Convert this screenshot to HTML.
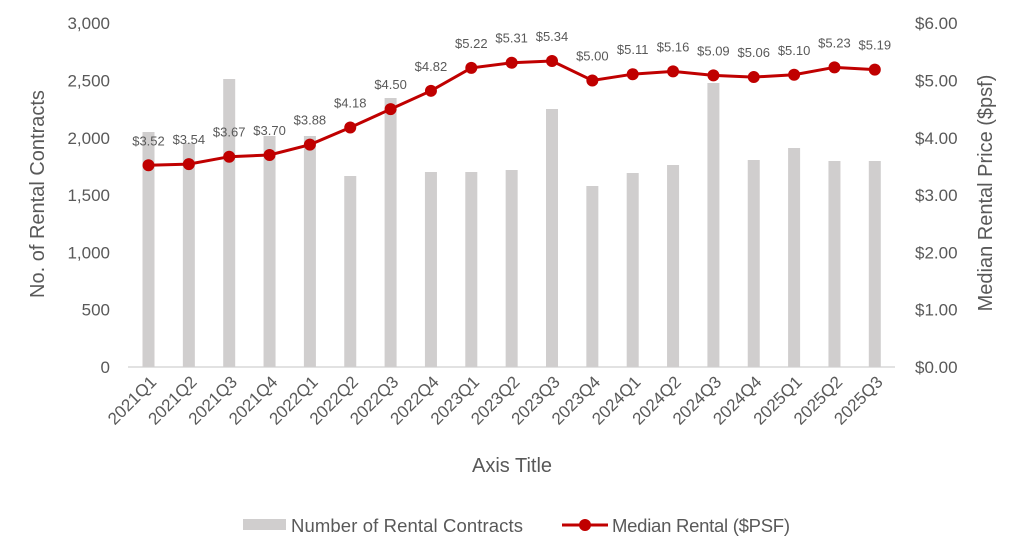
<!DOCTYPE html>
<html><head><meta charset="utf-8"><style>
html,body{margin:0;padding:0;background:#fff;}
svg{display:block;font-family:"Liberation Sans",sans-serif;}
</style></head><body>
<svg id="c" width="1024" height="559" viewBox="0 0 1024 559" xmlns="http://www.w3.org/2000/svg">
<rect width="1024" height="559" fill="#fff"/>
<g id="g"></g>
<text x="44" y="194" transform="rotate(-90 44 194)" text-anchor="middle" font-size="20" fill="#595959">No. of Rental Contracts</text>
<text x="992" y="193" transform="rotate(-90 992 193)" text-anchor="middle" font-size="20" fill="#595959">Median Rental Price ($psf)</text>
<text x="512" y="472" text-anchor="middle" font-size="20" fill="#595959">Axis Title</text>
<rect x="243" y="519" width="43" height="11" fill="#d0cece"/>
<text x="291" y="532" font-size="18.5" fill="#595959" textLength="232">Number of Rental Contracts</text>
<line x1="562" y1="525" x2="608" y2="525" stroke="#c00000" stroke-width="3"/>
<circle cx="585" cy="525" r="6" fill="#c00000"/>
<text x="612" y="532" font-size="18.5" fill="#595959" textLength="178">Median Rental ($PSF)</text>
</svg>
<script>
var g=document.getElementById('g'),h='';
var lbl=['2021Q1','2021Q2','2021Q3','2021Q4','2022Q1','2022Q2','2022Q3','2022Q4','2023Q1','2023Q2','2023Q3','2023Q4','2024Q1','2024Q2','2024Q3','2024Q4','2025Q1','2025Q2','2025Q3'];
var tops=[132,143,79,136,136,176,98,172,172,170,109,186,173,165,83,160,148,161,161];
var v=[3.52,3.54,3.67,3.70,3.88,4.18,4.50,4.82,5.22,5.31,5.34,5.00,5.11,5.16,5.09,5.06,5.10,5.23,5.19];
var Z=367,S=57.3;
for(var k=0;k<=6;k++){var y=Z-k*S;
 h+='<text x="110" y="'+(y+6)+'" text-anchor="end" font-size="17" fill="#595959">'+(k*500).toLocaleString('en-US')+'</text>';
 h+='<text x="915" y="'+(y+6)+'" font-size="17" fill="#595959">$'+k+'.00</text>';}
h+='<line x1="128" y1="367" x2="895" y2="367" stroke="#d9d9d9" stroke-width="1.5"/>';
var pts=[];
for(var i=0;i<19;i++){var cx=148.5+40.35*i;
 h+='<rect x="'+(cx-6)+'" y="'+tops[i]+'" width="12" height="'+(Z-tops[i])+'" fill="#d0cece"/>';
 var ly=Z-v[i]*S;pts.push(cx+','+ly);
 h+='<text x="'+(cx+9)+'" y="383" transform="rotate(-45 '+(cx+9)+' 383)" text-anchor="end" font-size="17" fill="#595959">'+lbl[i]+'</text>';}
h+='<polyline points="'+pts.join(' ')+'" fill="none" stroke="#c00000" stroke-width="3"/>';
for(var i=0;i<19;i++){var cx=148.5+40.35*i,ly=Z-v[i]*S;
 h+='<circle cx="'+cx+'" cy="'+ly+'" r="6" fill="#c00000"/>';
 h+='<text x="'+cx+'" y="'+(ly-20)+'" text-anchor="middle" font-size="13" fill="#595959">$'+v[i].toFixed(2)+'</text>';}
g.innerHTML=h;
</script>
</body></html>
